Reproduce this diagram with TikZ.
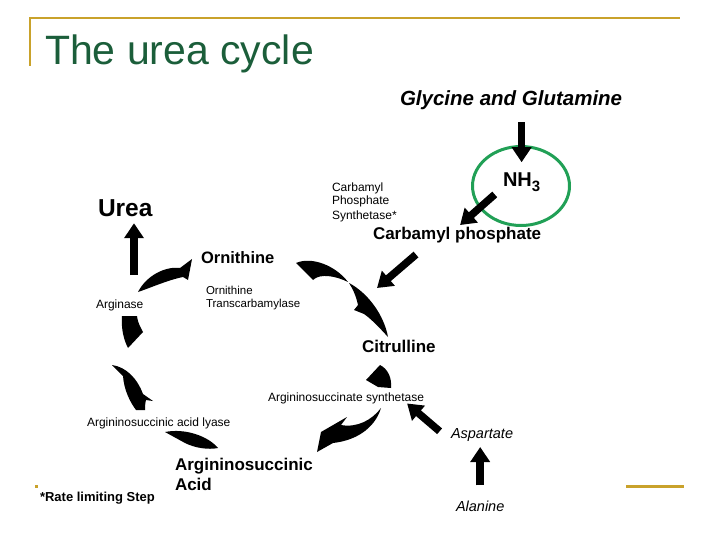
\documentclass[tikz,border=0pt]{standalone}
\usepackage{fontspec}
\setmainfont{Liberation Sans}
\usetikzlibrary{arrows.meta}
\definecolor{gold}{HTML}{C9A22B}
\definecolor{titlegreen}{HTML}{1B5E3A}
\definecolor{ringgreen}{HTML}{21A056}

\begin{document}
\begin{tikzpicture}[x=1pt, y=-1pt,
  lbl/.style={inner sep=0pt, outer sep=0pt, anchor=base west, align=left},
  met/.style={lbl, font=\bfseries\fontsize{17}{20}\selectfont},
  enz/.style={lbl, font=\fontsize{12}{14}\selectfont},
  feed/.style={lbl, font=\itshape\fontsize{14.5}{17}\selectfont},
  fat/.style={line width=7.5pt, -{Triangle[length=15pt, width=19pt]}},
  swoosh/.style={fill=black},
  goldrule/.style={gold, line width=2.5pt}
]
  \useasboundingbox (0,0) rectangle (720,540);
  \draw[goldrule] (30,66) -- (30,18) -- (680,18);
  \fill[gold] (35,485) rectangle (38,488);
  \draw[gold, line width=3pt] (626,486) -- (684,486);
  \node[lbl, font=\fontsize{41}{49}\selectfont, text=titlegreen] (title) at (45,65) {The urea cycle};

  \node[lbl, font=\bfseries\itshape\fontsize{20.5}{24}\selectfont] (gly) at (400,106) {Glycine and Glutamine};
  \node[lbl, font=\bfseries\fontsize{20}{24}\selectfont] (nh3) at (503,187) {NH\raisebox{-5pt}{\fontsize{15}{15}\selectfont 3}};
  \node[enz] (cps) at (332,219) {Carbamyl\\Phosphate\\Synthetase*};
  \node[met] (carb) at (373,240) {Carbamyl phosphate};
  \node[lbl, font=\bfseries\fontsize{24.5}{28}\selectfont] (urea) at (98,217) {Urea};
  \node[met, font=\bfseries\fontsize{16.5}{20}\selectfont] (orn) at (201,263) {Ornithine};
  \node[enz, font=\fontsize{11.5}{13}\selectfont] (otc) at (206,307) {Ornithine\\Transcarbamylase};
  \node[enz] (arg) at (96,308) {Arginase};
  \node[met] (cit) at (362,352) {Citrulline};
  \node[enz] (ass) at (268,401) {Argininosuccinate synthetase};
  \node[enz] (asl) at (87,426) {Argininosuccinic acid lyase};
  \node[met] (asa) at (175,490) {Argininosuccinic\\Acid};
  \node[feed] (asp) at (451,438) {Aspartate};
  \node[feed] (ala) at (456,511) {Alanine};
  \node[lbl, font=\bfseries\fontsize{13}{15}\selectfont] (note) at (40,501) {*Rate limiting Step};

  \draw[ringgreen, line width=3pt] (521,186) ellipse [x radius=48.5, y radius=39.5];

  \coordinate (cpin) at (377,288);
  \coordinate (ureaout) at (134,275);
  \draw[fat, shorten <=12pt, shorten >=11pt] (gly.south -| nh3.north) -- (nh3.north);
  \draw[fat, shorten <=11pt, shorten >=4pt] ([yshift=5pt]nh3.south west) -- (carb.north);
  \draw[fat] ([shift={(43pt,-11pt)}]carb.south west) -- (cpin);
  \draw[fat, shorten >=6pt] (ureaout) -- (ureaout |- urea.south);
  \draw[fat, shorten <=15pt] (asp.south west) -- ([xshift=-17pt]ass.south east);
  \draw[fat, shorten <=15pt, shorten >=6pt] (ala.north) -- (ala.north |- asp.south);

  \fill[swoosh] (296,263) .. controls (312,256) and (336,266) .. (348,282) .. controls (336,276) and (320,273) .. (313,280) -- cycle;
  \fill[swoosh] (349,283) .. controls (368,293) and (384,315) .. (388,337) .. controls (378,326) and (370,318) .. (364,314) -- (354,310) -- (358,305) .. controls (356,296) and (353,289) .. (349,283) -- cycle;
  \fill[swoosh] (138,292) .. controls (146,276) and (165,266) .. (180,268) -- (192,259) -- (188,280) -- (183,277) .. controls (168,280) and (150,288) .. (138,292) -- cycle;
  \fill[swoosh] (122,316) -- (137,316) .. controls (138,324) and (141,328) .. (143,332) -- (128,348) .. controls (124,340) and (121,330) .. (122,316) -- cycle;
  \fill[swoosh] (112,365) .. controls (126,367) and (137,378) .. (143,394) -- (153,401) -- (146,400) .. controls (145,404) and (145,407) .. (145,410) -- (136,410) .. controls (130,402) and (124,390) .. (123,376) -- cycle;
  \fill[swoosh] (165,432) .. controls (185,428) and (208,436) .. (218,448) .. controls (208,450) and (195,448) .. (185,443) -- cycle;
  \fill[swoosh] (380,365) .. controls (388,369) and (392,378) .. (391,388) -- (378,387) -- (366,380) -- cycle;
  \fill[swoosh] (381,408) .. controls (376,425) and (360,440) .. (333,443) -- (317,452) -- (321,432) -- (347,417) -- (341,425) .. controls (357,428) and (372,420) .. (381,408) -- cycle;
\end{tikzpicture}
\end{document}
